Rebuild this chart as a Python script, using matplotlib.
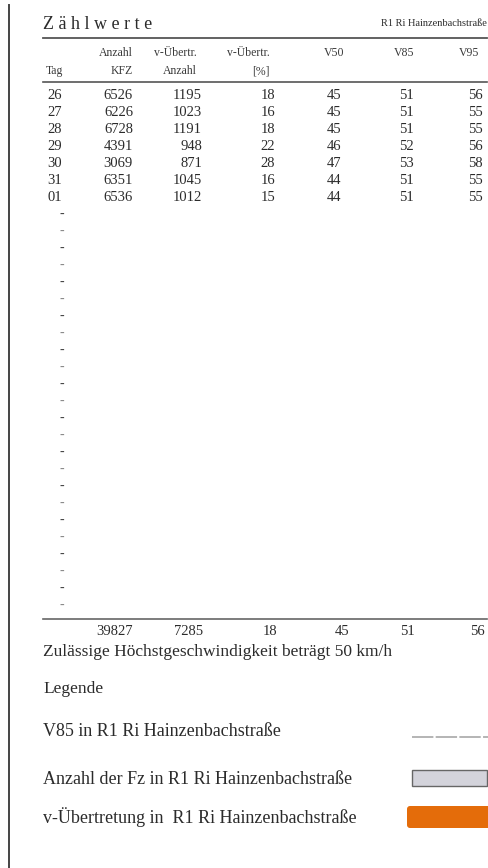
import matplotlib
matplotlib.use('Agg')
import matplotlib.pyplot as plt
from matplotlib.patches import Rectangle, FancyBboxPatch

# Zählwerte R1 Ri Hainzenbachstraße
days = ['26', '27', '28', '29', '30', '31', '01']
kfz = [6526, 6226, 6728, 4391, 3069, 6351, 6536]
ueb_anzahl = [1195, 1023, 1191, 948, 871, 1045, 1012]
ueb_pct = [18, 16, 18, 22, 28, 16, 15]
v50 = [45, 45, 45, 46, 47, 44, 44]
v85 = [51, 51, 51, 52, 53, 51, 51]
v95 = [56, 55, 55, 56, 58, 55, 55]
totals = [39827, 7285, 18, 45, 51, 56]
n_rows = 31

legend_labels = ['V85 in R1 Ri Hainzenbachstraße',
                 'Anzahl der Fz in R1 Ri Hainzenbachstraße',
                 'v-Übertretung in  R1 Ri Hainzenbachstraße']

plt.rcParams['font.family'] = ['Liberation Serif', 'DejaVu Serif']
ink = '#2b2b2b'

fig = plt.figure(figsize=(4.88, 8.68), dpi=100)
ax = fig.add_axes([0, 0, 1, 1])
ax.set_xlim(0, 488)
ax.set_ylim(868, 0)
ax.axis('off')

# scan edge on the left
ax.plot([9, 9], [5, 868], color='#444444', lw=1.4)

# title block
ax.text(43, 29, 'Z ä h l w e r t e', fontsize=13, color=ink, va='baseline', ha='left')
ax.text(487, 26, 'R1 Ri Hainzenbachstraße', fontsize=7.5, color=ink, va='baseline', ha='right')
ax.plot([43, 487], [38, 38], color='#555555', lw=1.3)

# column headers: (x, align, line1, line2)
cols = [(63, 'right', '', 'Tag'),
        (133, 'right', 'Anzahl', 'KFZ'),
        (197, 'right', 'v-Übertr.', 'Anzahl'),
        (270, 'right', 'v-Übertr.', '[%]'),
        (334, 'center', 'V50', ''),
        (404, 'center', 'V85', ''),
        (479, 'right', 'V95', '')]
for x, ha, l1, l2 in cols:
    ax.text(x, 56, l1, fontsize=8.5, color='#3a3a3a', ha=ha, va='baseline')
    ax.text(x, 74, l2, fontsize=8.5, color='#3a3a3a', ha=ha, va='baseline')
ax.plot([43, 487], [82, 82], color='#555555', lw=1.2)

# data rows
data_x = [(62, 'right'), (133, 'right'), (202, 'right'), (275, 'right'),
          (334, 'center'), (406, 'center'), (483, 'right')]
y0, dy = 99, 17
for i in range(len(days)):
    vals = [days[i], kfz[i], ueb_anzahl[i], ueb_pct[i], v50[i], v85[i], v95[i]]
    for (x, ha), v in zip(data_x, vals):
        ax.text(x, y0 + i * dy, str(v), fontsize=10.5, color=ink, ha=ha, va='baseline')
for i in range(len(days), n_rows):
    shade = '#444444' if i % 2 else '#888888'
    ax.text(64, y0 + i * dy, '-', fontsize=10, color=shade, ha='right', va='baseline')

# totals
ax.plot([43, 487], [619, 619], color='#666666', lw=1.2)
tot_x = [(133, 'right'), (203, 'right'), (277, 'right'),
         (342, 'center'), (407, 'center'), (485, 'right')]
for (x, ha), v in zip(tot_x, totals):
    ax.text(x, 635, str(v), fontsize=10.5, color=ink, ha=ha, va='baseline')

# notes and legend
ax.text(43, 656, 'Zulässige Höchstgeschwindigkeit beträgt 50 km/h', fontsize=12.5, color=ink, va='baseline')
ax.text(43, 693, 'Legende', fontsize=12.5, color=ink, va='baseline')
legend_y = [736, 784, 823]
for y, lab in zip(legend_y, legend_labels):
    ax.text(43, y, lab, fontsize=13, color=ink, va='baseline')

ax.plot([412, 488], [737, 737], color='#a0a0a0', lw=1.1, ls=(0, (14, 1.5)))
ax.add_patch(Rectangle((412, 770), 75, 16, facecolor='#d3d3db', edgecolor='#666666', lw=1.0))
ax.add_patch(FancyBboxPatch((407, 806), 88, 22, boxstyle='round,pad=0,rounding_size=3',
                            facecolor='#e46c0a', edgecolor='none'))

fig.savefig('out.png', dpi=100)
